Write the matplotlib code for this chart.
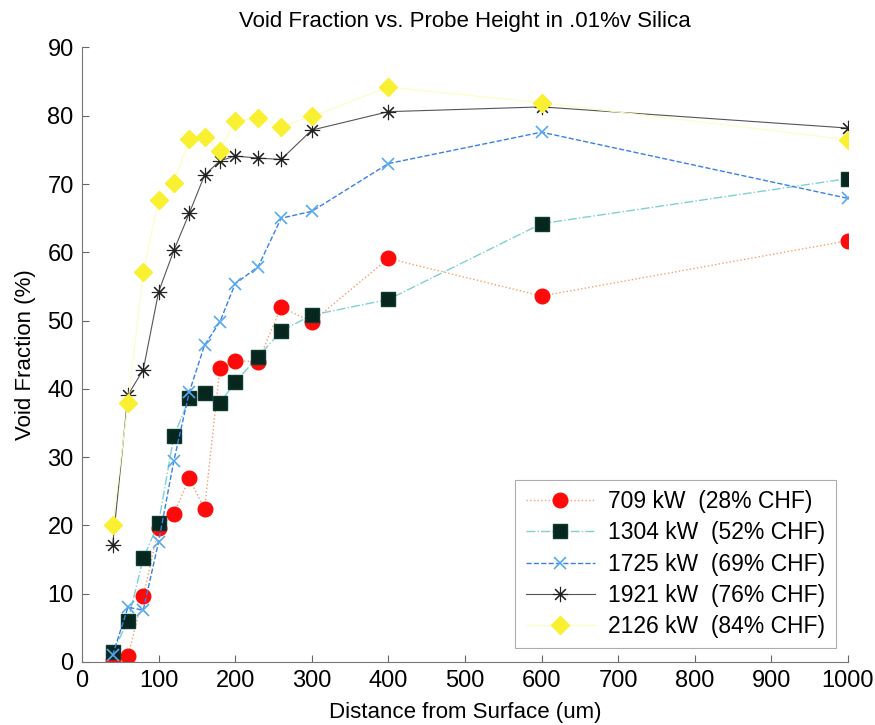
import matplotlib
matplotlib.use('Agg')
import matplotlib.pyplot as plt

plt.rcParams['font.family'] = ['Liberation Sans', 'DejaVu Sans']

# probe heights (um)
depth = [40, 60, 80, 100, 120, 140, 160, 180, 200, 230, 260, 300, 400, 600, 1000]

vf_709 = [0.3, 0.9, 9.6, 19.6, 21.7, 26.9, 22.4, 43.0, 44.1, 44.0, 52.0, 49.8, 59.1, 53.6, 61.7]
vf_1304 = [1.4, 6.0, 15.2, 20.4, 33.1, 38.6, 39.4, 37.9, 41.0, 44.7, 48.5, 50.8, 53.1, 64.2, 70.8]
vf_1725 = [1.0, 8.0, 7.6, 17.6, 29.5, 39.5, 46.4, 49.8, 55.4, 57.9, 65.0, 66.0, 73.0, 77.6, 67.9]
vf_1921 = [17.1, 39.1, 42.8, 54.2, 60.3, 65.7, 71.3, 73.4, 74.1, 73.8, 73.6, 77.9, 80.6, 81.3, 78.2]
vf_2126 = [20.0, 37.9, 57.1, 67.7, 70.2, 76.6, 76.9, 74.9, 79.2, 79.7, 78.4, 79.9, 84.2, 81.9, 76.5]

labels = ['709 kW  (28% CHF)', '1304 kW  (52% CHF)', '1725 kW  (69% CHF)',
          '1921 kW  (76% CHF)', '2126 kW  (84% CHF)']

xticks = list(range(0, 1001, 100))
yticks = list(range(0, 91, 10))

fig = plt.figure(figsize=(8.75, 7.25), dpi=100)
ax = fig.add_axes([0.0937, 0.0869, 0.8754, 0.8476])

ax.plot(depth, vf_709, ':', color='#f2a070', lw=1.0, marker='o', ms=10.5,
        mfc='#ff0a0a', mec='#ff0a0a', label=labels[0])
ax.plot(depth, vf_1304, '-.', color='#7fd0d0', lw=1.0, marker='s', ms=9.5,
        mfc='#07261d', mec='#0b3a30', label=labels[1])
ax.plot(depth, vf_1725, '--', color='#3b7fe8', lw=1.0, marker='x', ms=9,
        mew=1.2, mec='#55aaee', label=labels[2])
ax.plot(depth, vf_1921, '-', color='#555555', lw=0.8, marker=(8, 2, 0), ms=11,
        mew=0.8, mec='#222222', label=labels[3])
ax.plot(depth, vf_2126, '-', color='#fdfdc0', lw=0.8, marker='D', ms=9,
        mfc='#f8f030', mec='#f8f030', label=labels[4])

ax.set_xlim(0, 1000)
ax.set_ylim(0, 90)
ax.set_xticks(xticks)
ax.set_yticks(yticks)
ax.tick_params(direction='in', length=5, width=0.8, color='#666666',
               labelsize=17, pad=6)
for side in ['top', 'right']:
    ax.spines[side].set_visible(False)
for side in ['left', 'bottom']:
    ax.spines[side].set_color('#777777')
    ax.spines[side].set_linewidth(0.8)

ax.set_title('Void Fraction vs. Probe Height in .01%v Silica', fontsize=16, pad=15)
ax.set_xlabel('Distance from Surface (um)', fontsize=16, labelpad=7)
ax.set_ylabel('Void Fraction (%)', fontsize=16, labelpad=8)

leg = ax.legend(loc='lower right', bbox_to_anchor=(0.984, 0.022), fontsize=16.5,
                frameon=True, fancybox=False, handlelength=3.0, borderpad=0.45,
                labelspacing=0.36, handletextpad=0.6, borderaxespad=0)
leg.get_frame().set_edgecolor('#999999')
leg.get_frame().set_linewidth(0.8)

fig.savefig('out.png', dpi=100, facecolor='white')
